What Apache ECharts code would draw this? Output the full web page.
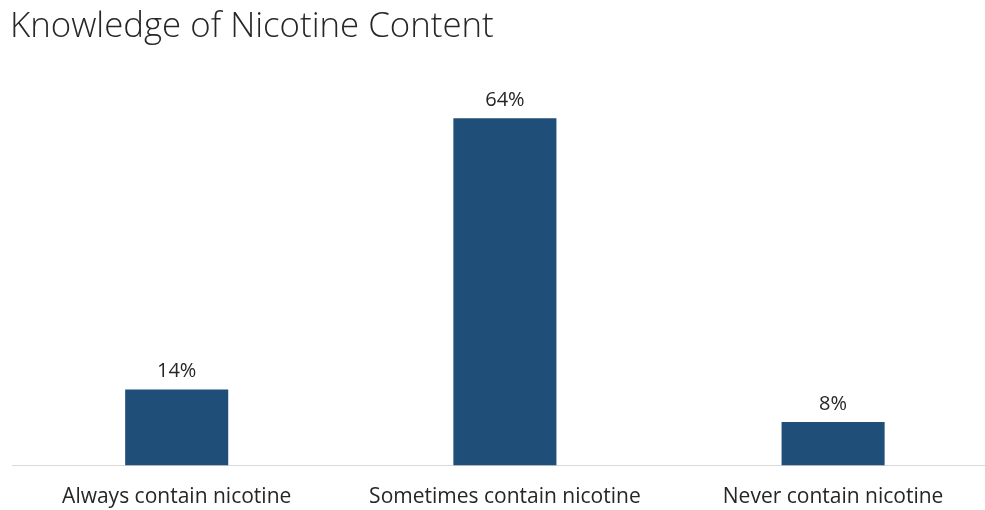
<!DOCTYPE html>
<html>
<head>
<meta charset="utf-8">
<script src="https://cdn.jsdelivr.net/npm/echarts@6/dist/echarts.min.js"></script>
<style>html,body{margin:0;padding:0;background:#fff;overflow:hidden;}#c{width:998px;height:510px;}</style>
</head>
<body>
<div id="c"></div>
<script>
var titleText = "Knowledge of Nicotine Content";
var categories = ["Always contain nicotine", "Sometimes contain nicotine", "Never contain nicotine"];
var values = [14, 64, 8];

var chart = echarts.init(document.getElementById('c'), null, {renderer: 'canvas'});
chart.setOption({
  backgroundColor: '#ffffff',
  animation: false,
  title: {
    text: titleText,
    left: 5, top: 5,
    textStyle: {fontFamily: 'Open Sans', fontWeight: 300, fontSize: 34.8, color: '#262626'}
  },
  grid: {left: 12.6, right: 0.8, top: 85.7, bottom: 44.7, containLabel: false},
  xAxis: {
    type: 'category',
    data: categories,
    axisLine: {lineStyle: {color: '#d9d9d9', width: 1}},
    axisTick: {show: false},
    axisLabel: {fontFamily: 'Open Sans', fontSize: 21, color: '#262626', margin: 21, interval: 0}
  },
  yAxis: {
    type: 'value', min: 0, max: 70, show: false,
    splitLine: {show: false}
  },
  series: [{
    type: 'bar',
    data: values,
    barWidth: '31.4%',
    itemStyle: {color: '#1F4E79'},
    label: {
      show: true, position: 'top', distance: 8,
      formatter: function(p){ return p.value + '%'; },
      fontFamily: 'Open Sans', fontSize: 20, color: '#262626'
    }
  }]
});
</script>
</body>
</html>
